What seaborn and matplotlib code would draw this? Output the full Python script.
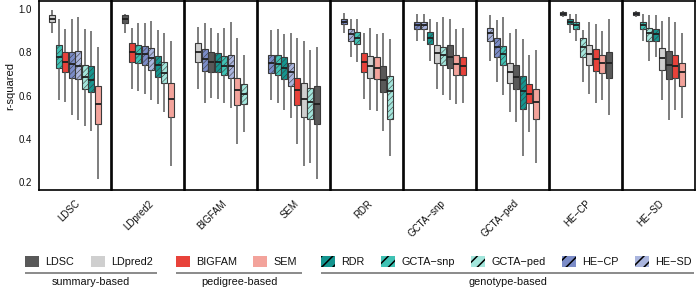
import numpy as np
import pandas as pd
import matplotlib
matplotlib.use("Agg")
import matplotlib.pyplot as plt
import seaborn as sns
from matplotlib.patches import Rectangle

# ---------------- data ----------------
panels = ["LDSC", "LDpred2", "BIGFAM", "SEM", "RDR", "GCTA-snp", "GCTA-ped", "HE-CP", "HE-SD"]
method_colors = ["#595959", "#cfcfcf", "#e8423a", "#f3a39b", "#14958f",
                 "#3fc2b4", "#a3e6dc", "#7b8cc8", "#aab5de"]
hatched = ["RDR", "GCTA-snp", "GCTA-ped", "HE-CP", "HE-SD"]

# (method, lower whisker, Q1, median, Q3, upper whisker)
LDSC_vs = [("LDpred2", 0.889, 0.940, 0.958, 0.974, 0.997),
           ("GCTA-snp", 0.580, 0.730, 0.781, 0.835, 0.954),
           ("BIGFAM", 0.568, 0.708, 0.758, 0.801, 0.907),
           ("HE-CP", 0.510, 0.683, 0.747, 0.804, 0.958),
           ("HE-SD", 0.487, 0.676, 0.739, 0.808, 0.963),
           ("GCTA-ped", 0.459, 0.629, 0.688, 0.742, 0.907),
           ("RDR", 0.433, 0.614, 0.673, 0.737, 0.901),
           ("SEM", 0.212, 0.469, 0.560, 0.646, 0.827)]
LDpred2_vs = [("LDSC", 0.889, 0.938, 0.955, 0.974, 0.981),
              ("BIGFAM", 0.629, 0.754, 0.800, 0.842, 0.912),
              ("GCTA-snp", 0.623, 0.750, 0.793, 0.833, 0.938),
              ("HE-CP", 0.606, 0.741, 0.791, 0.832, 0.938),
              ("HE-SD", 0.580, 0.719, 0.776, 0.822, 0.947),
              ("RDR", 0.561, 0.685, 0.741, 0.784, 0.904),
              ("GCTA-ped", 0.521, 0.659, 0.705, 0.754, 0.889),
              ("SEM", 0.274, 0.500, 0.585, 0.656, 0.853)]
BIGFAM_vs = [("LDpred2", 0.629, 0.756, 0.804, 0.844, 0.920),
             ("HE-CP", 0.564, 0.714, 0.770, 0.818, 0.935),
             ("LDSC", 0.588, 0.708, 0.758, 0.802, 0.912),
             ("RDR", 0.585, 0.710, 0.754, 0.796, 0.893),
             ("GCTA-snp", 0.564, 0.694, 0.739, 0.784, 0.912),
             ("HE-SD", 0.544, 0.683, 0.739, 0.788, 0.943),
             ("SEM", 0.376, 0.557, 0.626, 0.683, 0.866),
             ("GCTA-ped", 0.429, 0.561, 0.606, 0.654, 0.788)]
SEM_vs = [("HE-CP", 0.580, 0.703, 0.750, 0.788, 0.904),
          ("GCTA-snp", 0.564, 0.696, 0.745, 0.788, 0.909),
          ("RDR", 0.534, 0.677, 0.727, 0.778, 0.884),
          ("HE-SD", 0.495, 0.645, 0.707, 0.753, 0.889),
          ("BIGFAM", 0.376, 0.557, 0.626, 0.680, 0.866),
          ("LDpred2", 0.274, 0.498, 0.585, 0.657, 0.855),
          ("GCTA-ped", 0.286, 0.492, 0.568, 0.634, 0.812),
          ("LDSC", 0.212, 0.469, 0.560, 0.646, 0.827)]
RDR_vs = [("HE-CP", 0.892, 0.931, 0.944, 0.958, 0.985),
          ("HE-SD", 0.781, 0.853, 0.884, 0.907, 0.958),
          ("GCTA-snp", 0.758, 0.839, 0.869, 0.897, 0.955),
          ("BIGFAM", 0.583, 0.710, 0.756, 0.796, 0.889),
          ("LDpred2", 0.534, 0.683, 0.739, 0.785, 0.912),
          ("SEM", 0.529, 0.677, 0.730, 0.778, 0.884),
          ("LDSC", 0.433, 0.614, 0.673, 0.737, 0.893),
          ("GCTA-ped", 0.317, 0.492, 0.623, 0.691, 0.863)]
GCTAsnp_vs = [("HE-CP", 0.855, 0.907, 0.926, 0.940, 0.981),
              ("HE-SD", 0.855, 0.907, 0.926, 0.940, 0.981),
              ("RDR", 0.761, 0.839, 0.869, 0.897, 0.958),
              ("LDpred2", 0.629, 0.750, 0.796, 0.835, 0.943),
              ("GCTA-ped", 0.603, 0.741, 0.788, 0.827, 0.966),
              ("LDSC", 0.580, 0.730, 0.781, 0.835, 0.954),
              ("SEM", 0.560, 0.694, 0.745, 0.788, 0.907),
              ("BIGFAM", 0.564, 0.694, 0.739, 0.781, 0.912)]
GCTAped_vs = [("HE-SD", 0.761, 0.853, 0.889, 0.915, 0.974),
              ("HE-CP", 0.662, 0.781, 0.824, 0.866, 0.951),
              ("GCTA-snp", 0.603, 0.741, 0.791, 0.832, 0.963),
              ("LDpred2", 0.521, 0.657, 0.707, 0.753, 0.889),
              ("LDSC", 0.475, 0.631, 0.688, 0.744, 0.907),
              ("RDR", 0.317, 0.537, 0.623, 0.690, 0.863),
              ("BIGFAM", 0.429, 0.563, 0.606, 0.652, 0.788),
              ("SEM", 0.286, 0.492, 0.568, 0.632, 0.812)]
HECP_vs = [("HE-SD", 0.966, 0.975, 0.981, 0.988, 0.994),
           ("RDR", 0.892, 0.931, 0.944, 0.957, 0.981),
           ("GCTA-snp", 0.855, 0.907, 0.926, 0.940, 0.977),
           ("GCTA-ped", 0.662, 0.781, 0.827, 0.866, 0.904),
           ("LDpred2", 0.606, 0.742, 0.791, 0.833, 0.940),
           ("BIGFAM", 0.564, 0.716, 0.770, 0.816, 0.932),
           ("SEM", 0.580, 0.703, 0.750, 0.787, 0.901),
           ("LDSC", 0.510, 0.683, 0.750, 0.804, 0.958)]
HESD_vs = [("HE-CP", 0.966, 0.975, 0.981, 0.988, 0.994),
           ("GCTA-snp", 0.855, 0.907, 0.930, 0.940, 0.981),
           ("GCTA-ped", 0.761, 0.853, 0.889, 0.915, 0.974),
           ("RDR", 0.781, 0.853, 0.884, 0.907, 0.974),
           ("LDpred2", 0.580, 0.719, 0.776, 0.822, 0.947),
           ("LDSC", 0.487, 0.676, 0.742, 0.808, 0.963),
           ("BIGFAM", 0.534, 0.683, 0.739, 0.788, 0.940),
           ("SEM", 0.495, 0.645, 0.708, 0.753, 0.889)]

panel_data = [LDSC_vs, LDpred2_vs, BIGFAM_vs, SEM_vs, RDR_vs,
              GCTAsnp_vs, GCTAped_vs, HECP_vs, HESD_vs]

legend_groups = [("summary-based", ["LDSC", "LDpred2"]),
                 ("pedigree-based", ["BIGFAM", "SEM"]),
                 ("genotype-based", ["RDR", "GCTA-snp", "GCTA-ped", "HE-CP", "HE-SD"])]

# ---------------- style ----------------
sns.set_theme(style="white")
plt.rcParams["font.family"] = ["Liberation Sans", "DejaVu Sans"]
plt.rcParams["hatch.linewidth"] = 0.4
pal = dict(zip(panels, method_colors))

def disp(s):
    return s.replace("-", "\u2212")

W, H = 698, 288
fig = plt.figure(figsize=(W / 100, H / 100), dpi=100)

def set_hlw(p, lw):
    if hasattr(p, "set_hatch_linewidth"):
        p.set_hatch_linewidth(lw)

for i, (name, rows) in enumerate(zip(panels, panel_data)):
    ax = fig.add_axes([(39 + 73 * i) / W, 98 / H, 72 / W, 189 / H])
    order = [r[0] for r in rows]
    df = pd.DataFrame([(r[0], v) for r in rows for v in r[1:]], columns=["method", "r2"])
    sns.boxplot(data=df, x="method", y="r2", hue="method", order=order, hue_order=order,
                palette=pal, saturation=1, whis=(0, 100), width=0.85, showcaps=False,
                linecolor="#3a3a3a", linewidth=0.8, legend=False, ax=ax,
                medianprops=dict(color="#1e1e1e", linewidth=1.3),
                whiskerprops=dict(color="#5a5a5a", linewidth=1.1))
    cols = {m: np.array(matplotlib.colors.to_rgb(c)) for m, c in pal.items()}
    for p in ax.patches:
        fc = np.array(p.get_facecolor()[:3])
        m = min(cols, key=lambda k: np.abs(cols[k] - fc).sum())
        if m in hatched:
            p.set_hatch("//////")
            set_hlw(p, 0.4)
    ax.set_xlim(-2.04, 9.04)
    ax.set_ylim(0.1605, 1.0395)
    ax.set_xlabel("")
    ax.set_ylabel("")
    ax.set_xticks([3.5])
    ax.set_xticklabels([disp(name)], rotation=45, ha="right", rotation_mode="anchor", fontsize=7)
    if i == 0:
        ax.set_yticks([0.2, 0.4, 0.6, 0.8, 1.0])
        ax.set_yticklabels(["0.2", "0.4", "0.6", "0.8", "1.0"], fontsize=7)
    else:
        ax.set_yticks([])
    ax.tick_params(axis="both", length=3, width=0.8, color="#333333", pad=2, labelcolor="#111111")
    ax.tick_params(axis="x", pad=3)
    for s in ax.spines.values():
        s.set_color("black")
        s.set_linewidth(1.2)

fig.text(10 / W, 1 - 86 / H, "r-squared", rotation=90, ha="center", va="center",
         fontsize=8, color="#111111")

# ---------------- legend ----------------
lax = fig.add_axes([0, 0, 1, 1])
lax.set_xlim(0, W)
lax.set_ylim(H, 0)
lax.axis("off")
lax.patch.set_visible(False)

legend_x = {"LDSC": 25, "LDpred2": 91, "BIGFAM": 176, "SEM": 253, "RDR": 321,
            "GCTA-snp": 381, "GCTA-ped": 471, "HE-CP": 562, "HE-SD": 635}
group_span = {"summary-based": (25, 157), "pedigree-based": (176, 302),
              "genotype-based": (321, 694)}
for gname, members in legend_groups:
    for m in members:
        x0 = legend_x[m]
        lax.add_patch(Rectangle((x0, 256), 14, 11, facecolor=pal[m], edgecolor="none"))
        if m in hatched:
            hp = Rectangle((x0, 256), 14, 11, facecolor="none", edgecolor="black",
                           linewidth=0, hatch="///")
            set_hlw(hp, 1.1)
            lax.add_patch(hp)
        lax.text(x0 + 20, 262, disp(m), ha="left", va="center", fontsize=7.8, color="#111111")
    a, b = group_span[gname]
    lax.plot([a, b], [272.7, 272.7], color="#8a8a8a", linewidth=1.4, solid_capstyle="butt")
    lax.text((a + b) / 2, 282, gname, ha="center", va="center", fontsize=7.8, color="#111111")

fig.savefig("out.png", dpi=100)
